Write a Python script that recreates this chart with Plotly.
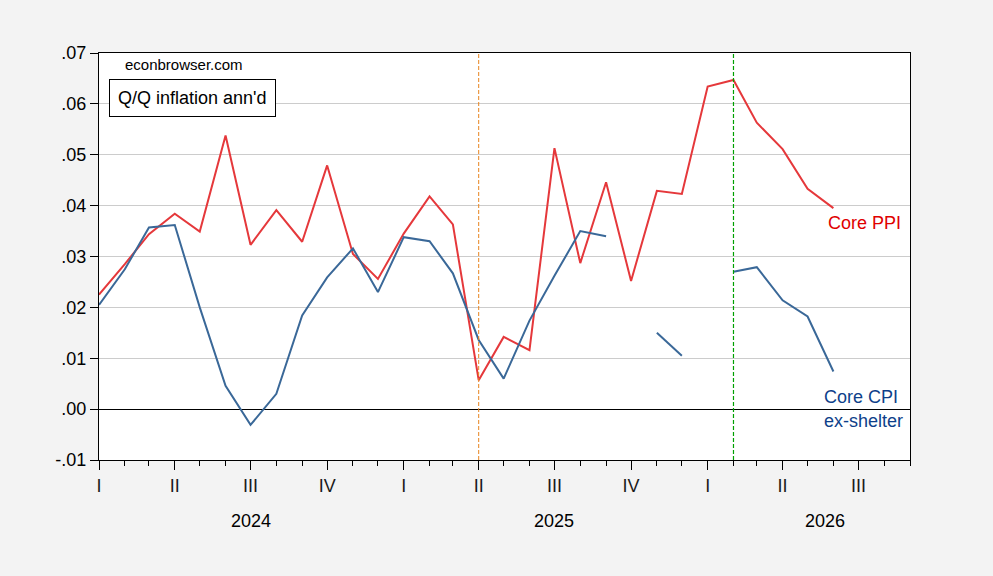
import numpy as np
import pandas as pd
import plotly.graph_objects as go

# ----------------------------------------------------------------------------------------------------------------------
#  DATA  (Q/Q inflation, annualized, monthly obs)
# ----------------------------------------------------------------------------------------------------------------------
months = pd.date_range("2024-01-01", "2026-06-01", freq="MS")

core_ppi = [0.0225, 0.0285, 0.0344, 0.0384, 0.0349, 0.0538, 0.0323, 0.0391, 0.0329, 0.0479, 0.0305, 0.0256,
            0.0345, 0.0418, 0.0363, 0.0057, 0.0142, 0.0116, 0.0513, 0.0287, 0.0446, 0.0252, 0.0429, 0.0423,
            0.0634, 0.0647, 0.0563, 0.0511, 0.0433, 0.0395]

core_cpi_xshelter = [0.0205, 0.0275, 0.0357, 0.0362, 0.0200, 0.0046, -0.0031, 0.0030, 0.0184, 0.0259, 0.0316, 0.0230,
                     0.0338, 0.0330, 0.0267, 0.0136, 0.0060, 0.0174, 0.0262, 0.0350, 0.0340, np.nan, 0.0150, 0.0105,
                     np.nan, 0.0270, 0.0279, 0.0214, 0.0182, 0.0074]

quarter_ticks = pd.date_range("2024-01-01", "2026-07-01", freq="QS")
quarter_labels = ["I", "II", "III", "IV"] * 2 + ["I", "II", "III"]
year_labels = ["2024", "2025", "2026"]
year_pos = ["2024-07-01", "2025-07-01", "2026-05-22"]

y_ticks = [-0.01, 0.0, 0.01, 0.02, 0.03, 0.04, 0.05, 0.06, 0.07]
y_labels = ["-.01", ".00", ".01", ".02", ".03", ".04", ".05", ".06", ".07"]

# ----------------------------------------------------------------------------------------------------------------------
#  PLOT
# ----------------------------------------------------------------------------------------------------------------------
FONT = "Liberation Sans, Arial, sans-serif"
RED = "#e5383b"
BLUE = "#3a6898"

fig = go.Figure()
fig.add_trace(go.Scatter(x=months, y=core_ppi, mode="lines",
                         line=dict(color=RED, width=2), showlegend=False))
fig.add_trace(go.Scatter(x=months, y=core_cpi_xshelter, mode="lines",
                         line=dict(color=BLUE, width=2), showlegend=False))

# reference lines
fig.add_shape(type="line", x0="2025-04-01", x1="2025-04-01", y0=0, y1=1, yref="paper",
              line=dict(color="#e8841f", width=1, dash="4px,2px"))
fig.add_shape(type="line", x0="2026-02-01", x1="2026-02-01", y0=0, y1=1, yref="paper",
              line=dict(color="#00a000", width=1.2, dash="4px,2px"))

fig.update_xaxes(
    range=["2024-01-01", "2026-09-01"],
    tickmode="array", tickvals=quarter_ticks, ticktext=quarter_labels,
    ticks="outside", ticklen=9, tickcolor="black", tickwidth=1,
    minor=dict(dtick="M1", tick0="2024-01-01", ticks="outside", ticklen=5, tickcolor="black", showgrid=False),
    showgrid=False, showline=True, linecolor="black", linewidth=1, mirror=True,
    tickfont=dict(family=FONT, size=18, color="#1a1a1a"), ticklabelstandoff=0,
)
fig.update_yaxes(
    range=[-0.01, 0.07],
    tickmode="array", tickvals=y_ticks, ticktext=y_labels,
    ticks="outside", ticklen=8, tickcolor="black",
    showgrid=True, gridcolor="#cccccc", gridwidth=1,
    zeroline=True, zerolinecolor="black", zerolinewidth=1,
    showline=True, linecolor="black", linewidth=1, mirror=True,
    tickfont=dict(family=FONT, size=18, color="black"),
)

for lab, pos in zip(year_labels, year_pos):
    fig.add_annotation(x=pos, y=-0.15, xref="x", yref="paper", text=lab, showarrow=False,
                       xanchor="center", yanchor="middle",
                       font=dict(family=FONT, size=18, color="black"))

notes = [
    ("econbrowser.com", 0.105, 0.972, 15, "black", False),
    ("Q/Q inflation ann'd", 0.115, 0.890, 18, "black", True),
    ("Core PPI", 0.944, 0.5816, 18, "#e00000", False),
    ("Core CPI", 0.940, 0.156, 18, "#0e3f8a", False),
    ("ex-shelter", 0.943, 0.096, 18, "#0e3f8a", False),
]
for txt, nx, ny, fs, col, boxed in notes:
    fig.add_annotation(x=nx, y=ny, xref="paper", yref="paper", text=txt, showarrow=False,
                       xanchor="center", yanchor="middle",
                       font=dict(family=FONT, size=fs, color=col),
                       bordercolor="black" if boxed else None, borderwidth=1 if boxed else 0,
                       borderpad=8 if boxed else 0, bgcolor="white" if boxed else None)

fig.update_layout(
    width=993, height=576,
    margin=dict(l=99, r=83, t=53, b=116),
    paper_bgcolor="#f3f3f3", plot_bgcolor="white",
    font=dict(family=FONT),
)

fig.write_html("out.html", config={"displayModeBar": False},
               post_script="document.body.style.margin='0';")
